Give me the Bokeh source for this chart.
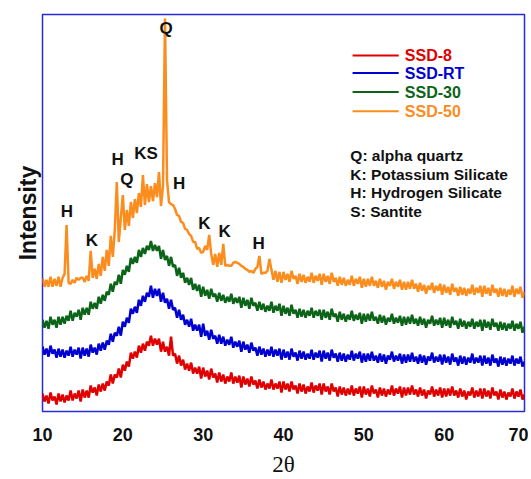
import numpy as np
from bokeh.plotting import figure
from bokeh.models import Range1d, FixedTicker
from bokeh.core.properties import value
from bokeh.embed import file_html
from bokeh.resources import INLINE

# ---------------- data ----------------
two_theta = np.arange(10.0, 70.001, 0.25)   # 241 sample positions

ssd8 = [
    18, 10, 16, 8, 19, 11, 15, 7, 18, 10, 17, 9, 16, 11, 21, 11, 18, 13, 21, 10,
    22, 14, 21, 14, 26, 19, 24, 16, 27, 20, 28, 21, 30, 26, 37, 28, 37, 34, 43, 34,
    47, 41, 50, 45, 59, 53, 60, 54, 66, 59, 68, 61, 70, 66, 76, 66, 73, 67, 73, 60,
    70, 60, 65, 56, 75, 56, 58, 48, 56, 46, 52, 42, 48, 41, 49, 38, 44, 38, 45, 33,
    44, 35, 41, 32, 43, 34, 38, 29, 39, 30, 37, 28, 35, 30, 39, 28, 35, 29, 36, 24,
    35, 27, 33, 25, 35, 27, 31, 23, 32, 24, 30, 22, 28, 23, 32, 22, 28, 23, 30, 19,
    30, 22, 28, 20, 30, 22, 26, 18, 28, 20, 27, 18, 25, 20, 29, 19, 26, 21, 28, 17,
    28, 20, 25, 17, 28, 20, 24, 15, 25, 17, 24, 16, 23, 17, 26, 16, 23, 18, 25, 14,
    25, 17, 23, 15, 26, 18, 22, 14, 24, 16, 23, 15, 22, 17, 26, 16, 23, 18, 25, 14,
    24, 16, 24, 17, 26, 17, 22, 15, 24, 16, 22, 13, 21, 17, 25, 15, 22, 16, 24, 14,
    23, 15, 23, 16, 25, 16, 21, 14, 23, 15, 21, 12, 20, 16, 24, 14, 21, 15, 23, 13,
    23, 15, 21, 13, 24, 16, 20, 12, 22, 14, 20, 12, 19, 15, 23, 13, 20, 15, 22, 12,
    17,
]

ssd_rt = [
    65, 57, 63, 55, 66, 58, 62, 54, 63, 55, 62, 54, 61, 56, 65, 55, 62, 57, 64, 53,
    64, 56, 63, 55, 67, 59, 64, 57, 68, 61, 69, 62, 71, 67, 78, 70, 79, 76, 85, 76,
    90, 85, 94, 89, 103, 98, 105, 99, 112, 106, 116, 110, 119, 115, 126, 114, 123, 116, 123, 110,
    119, 109, 113, 103, 112, 102, 104, 94, 102, 92, 97, 87, 92, 85, 93, 81, 87, 81, 87, 75,
    88, 76, 81, 72, 82, 73, 76, 68, 77, 68, 75, 66, 72, 67, 75, 64, 70, 65, 71, 60,
    70, 62, 67, 59, 69, 61, 64, 56, 65, 57, 63, 55, 62, 56, 65, 55, 62, 56, 63, 52,
    62, 54, 60, 52, 63, 55, 59, 51, 61, 53, 60, 52, 58, 53, 62, 52, 59, 54, 61, 50,
    61, 53, 59, 51, 62, 54, 58, 50, 59, 51, 58, 50, 57, 52, 61, 51, 58, 53, 60, 49,
    58, 50, 58, 51, 60, 51, 56, 49, 58, 50, 57, 48, 56, 52, 60, 50, 56, 51, 58, 48,
    57, 49, 57, 50, 59, 50, 55, 48, 57, 49, 56, 47, 55, 51, 59, 49, 55, 50, 57, 47,
    57, 49, 55, 47, 58, 50, 54, 46, 56, 48, 55, 47, 54, 49, 58, 48, 54, 49, 56, 46,
    56, 48, 54, 46, 57, 49, 53, 45, 55, 47, 54, 46, 53, 48, 56, 46, 53, 48, 55, 45,
    50,
]

ssd30 = [
    92, 84, 91, 83, 95, 87, 92, 84, 95, 87, 95, 88, 96, 91, 101, 91, 99, 95, 102, 92,
    104, 97, 104, 97, 110, 103, 109, 103, 115, 108, 117, 111, 120, 117, 128, 120, 130, 127, 137, 128,
    142, 137, 146, 140, 154, 148, 155, 149, 162, 155, 164, 158, 166, 162, 171, 161, 167, 161, 166, 153,
    162, 152, 156, 146, 155, 145, 147, 136, 144, 134, 139, 129, 134, 127, 134, 122, 128, 121, 127, 115,
    125, 116, 122, 113, 123, 115, 118, 110, 119, 111, 117, 109, 115, 110, 118, 108, 114, 109, 115, 104,
    114, 106, 112, 103, 114, 106, 109, 101, 110, 102, 108, 100, 106, 101, 110, 99, 106, 101, 108, 96,
    106, 98, 104, 96, 107, 98, 102, 94, 103, 95, 102, 94, 101, 96, 104, 94, 101, 96, 102, 92,
    102, 94, 100, 92, 103, 95, 98, 90, 100, 92, 98, 90, 97, 92, 101, 91, 97, 92, 99, 88,
    98, 90, 98, 91, 100, 91, 95, 88, 97, 89, 96, 87, 94, 90, 98, 88, 94, 89, 96, 86,
    95, 87, 95, 88, 97, 88, 93, 86, 95, 87, 93, 84, 92, 88, 96, 86, 92, 87, 94, 84,
    94, 86, 92, 84, 95, 87, 91, 83, 93, 85, 91, 83, 90, 85, 93, 83, 90, 85, 92, 81,
    92, 84, 90, 82, 93, 85, 89, 81, 90, 82, 89, 81, 88, 83, 91, 81, 88, 83, 90, 79,
    85,
]

ssd50 = [
    134, 125, 132, 125, 135, 125, 133, 126, 135, 125, 134, 138, 187, 129, 128, 132, 129, 134, 132, 134,
    134, 130, 136, 131, 161, 134, 143, 133, 148, 136, 155, 141, 162, 146, 176, 155, 182, 230, 170, 194,
    217, 182, 202, 186, 210, 194, 213, 199, 219, 205, 237, 207, 228, 210, 226, 211, 229, 215, 240, 206,
    226, 394, 232, 210, 208, 207, 203, 197, 196, 190, 189, 183, 182, 178, 176, 170, 170, 163, 164, 159,
    160, 166, 162, 177, 158, 147, 158, 145, 159, 147, 168, 146, 147, 146, 146, 149, 150, 149, 148, 146,
    145, 143, 142, 140, 141, 139, 143, 145, 156, 138, 139, 139, 141, 153, 142, 132, 141, 130, 140, 129,
    140, 132, 138, 130, 141, 133, 136, 128, 138, 130, 137, 129, 135, 130, 139, 129, 136, 131, 138, 127,
    138, 130, 136, 128, 139, 130, 134, 126, 135, 127, 134, 126, 132, 127, 136, 126, 133, 128, 135, 124,
    133, 125, 133, 126, 135, 126, 131, 124, 133, 125, 131, 122, 130, 126, 133, 123, 130, 125, 132, 122,
    130, 122, 130, 123, 132, 123, 128, 120, 129, 121, 127, 118, 126, 122, 129, 119, 126, 121, 128, 117,
    127, 119, 125, 117, 128, 120, 124, 116, 125, 117, 124, 116, 123, 118, 127, 117, 124, 119, 126, 115,
    126, 118, 124, 116, 127, 119, 123, 115, 124, 116, 123, 115, 122, 117, 126, 115, 123, 118, 125, 114,
    120,
]

series_names = ["SSD-8", "SSD-RT", "SSD-30", "SSD-50"]
series_colors = ["#e00000", "#0000d0", "#0b6418", "#fb8c1e"]

peak_labels = ["Q", "H", "K", "H", "Q", "KS", "H", "K", "K", "H"]
peak_x = [25.4, 13.04, 16.15, 19.34, 20.5, 22.9, 27.0, 30.14, 32.67, 36.9]
peak_y = [383.7, 201, 171, 253, 233, 259, 229, 188, 180, 168]

phase_notes = ["Q: alpha quartz", "K: Potassium Silicate",
               "H: Hydrogen Silicate", "S: Santite"]

x_ticks = [10, 20, 30, 40, 50, 60, 70]
x_title = "2θ"
y_title = "Intensity"

for s in (ssd8, ssd_rt, ssd30, ssd50):
    assert len(s) == len(two_theta), len(s)

# ---------------- figure ----------------
p = figure(width=528, height=479, output_backend="svg", toolbar_location=None,
           x_range=Range1d(10, 70), y_range=Range1d(0, 398),
           min_border_left=42, min_border_right=4, min_border_top=14,
           min_border_bottom=67)

p.xgrid.visible = False
p.ygrid.visible = False
p.outline_line_color = "#2a2ad8"
p.outline_line_width = 1.5
p.background_fill_color = "white"
p.border_fill_color = "white"

font = "Liberation Sans"

p.xaxis.ticker = FixedTicker(ticks=x_ticks)
p.xaxis.axis_line_color = None
p.xaxis.major_tick_line_color = None
p.xaxis.minor_tick_line_color = None
p.xaxis.major_tick_out = 0
p.xaxis.major_tick_in = 0
p.xaxis.major_label_standoff = 16
p.xaxis.major_label_text_font = font
p.xaxis.major_label_text_font_style = "bold"
p.xaxis.major_label_text_font_size = "18px"
p.xaxis.major_label_text_color = "#111111"
p.xaxis.axis_label = x_title
p.xaxis.axis_label_text_font = "Liberation Serif"
p.xaxis.axis_label_text_font_style = "normal"
p.xaxis.axis_label_text_font_size = "23px"
p.xaxis.axis_label_standoff = 8
p.xaxis.axis_label_text_color = "#111111"

p.yaxis.ticker = FixedTicker(ticks=[])
p.yaxis.axis_line_color = None
p.yaxis.major_tick_line_color = None
p.yaxis.minor_tick_line_color = None
p.yaxis.major_tick_out = 0
p.yaxis.major_label_text_font_size = "0px"
p.yaxis.axis_label = y_title
p.yaxis.axis_label_text_font = font
p.yaxis.axis_label_text_font_style = "bold"
p.yaxis.axis_label_text_font_size = "23px"
p.yaxis.axis_label_standoff = 2
p.yaxis.axis_label_text_color = "#111111"

for yy, c in zip([ssd8, ssd_rt, ssd30, ssd50], series_colors):
    p.line(two_theta, yy, line_color=c, line_width=2.5)

# legend drawn manually (coloured labels)
leg_y = [357, 339.3, 320.3, 301]
p.segment(x0=[48.6] * 4, y0=leg_y, x1=[54.34] * 4, y1=leg_y,
          line_color=series_colors, line_width=2)
p.text(x=[55.1] * 4, y=leg_y, text=series_names, text_color=series_colors,
       text_font=value(font), text_font_style="bold", text_font_size="16px",
       text_align="left", text_baseline="middle")

# phase notes
note_y = [257, 238, 219.3, 200.3]
p.text(x=[48.32] * 4, y=note_y, text=phase_notes, text_color="#111111",
       text_font=value(font), text_font_style="bold", text_font_size="15.5px",
       text_align="left", text_baseline="middle")

# peak labels
p.text(x=peak_x, y=peak_y, text=peak_labels, text_color="#111111",
       text_font=value(font), text_font_style="bold", text_font_size="17px",
       text_align="center", text_baseline="middle")

open("out.html", "w").write(file_html(p, INLINE))
